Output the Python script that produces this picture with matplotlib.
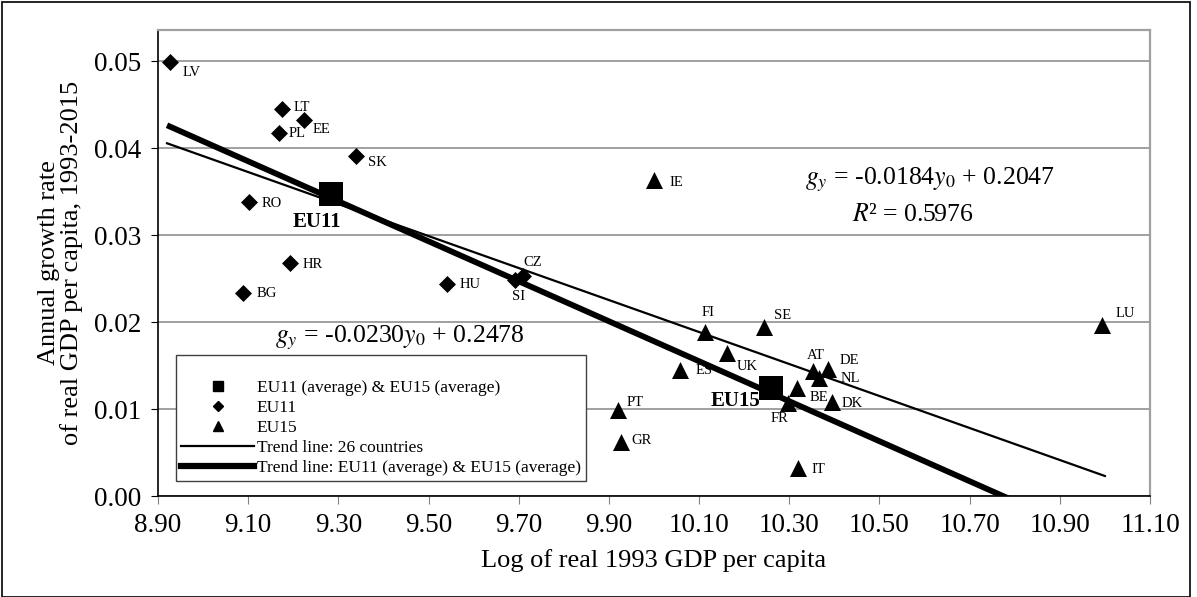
import matplotlib
matplotlib.use("Agg")
import matplotlib.pyplot as plt
from matplotlib.lines import Line2D
from matplotlib.patches import Rectangle
import numpy as np

plt.rcParams["font.family"] = ["Liberation Serif", "DejaVu Serif"]
plt.rcParams["mathtext.fontset"] = "stix"

# EU11 countries: log of real 1993 GDP per capita, annual growth 1993-2015
eu11_names = ["LV", "LT", "EE", "PL", "SK", "RO", "HR", "BG", "HU", "CZ", "SI"]
eu11_x = [8.927, 9.175, 9.224, 9.168, 9.339, 9.102, 9.193, 9.089, 9.541, 9.709, 9.692]
eu11_y = [0.0499, 0.0445, 0.0433, 0.0418, 0.0391, 0.0338, 0.0268, 0.0234, 0.0244, 0.0253, 0.0249]

# EU15 countries
eu15_names = ["IE", "FI", "SE", "UK", "ES", "AT", "DE", "NL", "BE", "FR", "DK", "PT", "GR", "IT", "LU"]
eu15_x = [10.000, 10.113, 10.244, 10.162, 10.058, 10.353, 10.386, 10.366, 10.317, 10.297, 10.395,
          9.920, 9.927, 10.319, 10.994]
eu15_y = [0.0364, 0.0189, 0.0194, 0.0164, 0.0145, 0.0144, 0.0146, 0.0136, 0.0124, 0.0107, 0.0108,
          0.0099, 0.0062, 0.0032, 0.0197]

# group averages
avg_names = ["EU11", "EU15"]
avg_x = [9.284, 10.259]
avg_y = [0.0347, 0.0124]

# trend line coefficients (slope, intercept) and x ranges
trend_all = (-0.0184, 0.2047)
trend_all_range = (8.92, 11.00)
trend_avg = (-0.0230, 0.2478)
trend_avg_range = (8.92, 10.80)

# label offsets in pixels (right, down)
label_off = {
    "LV": (12, 10), "LT": (12, -2), "EE": (9, 10), "PL": (10, 1), "SK": (12, 6),
    "RO": (13, 1), "HR": (12, 2), "BG": (13, 1), "HU": (13, 1), "CZ": (1, -14),
    "SI": (-3, 17), "IE": (15, 3), "FI": (-3, -19), "SE": (10, -12), "UK": (10, 13),
    "ES": (15, 1), "AT": (-6, -15), "DE": (12, -9), "NL": (22, 1), "BE": (13, 9),
    "FR": (-17, 16), "DK": (10, 1), "PT": (9, -7), "GR": (10, -2), "IT": (14, 1),
    "LU": (13, -11),
}
avg_off = {"EU11": (-14, 28), "EU15": (-35, 13)}

fig = plt.figure(figsize=(11.97, 5.97), dpi=100)
ax = fig.add_axes([158 / 1197, 1 - 496 / 597, (1150 - 158) / 1197, (496 - 30) / 597])

ax.set_xlim(8.90, 11.10)
ax.set_ylim(0.0, 0.0536)
ax.set_xticks(np.arange(8.90, 11.11, 0.20))
ax.set_yticks([0.00, 0.01, 0.02, 0.03, 0.04, 0.05])
ax.xaxis.set_major_formatter(matplotlib.ticker.FormatStrFormatter("%.2f"))
ax.yaxis.set_major_formatter(matplotlib.ticker.FormatStrFormatter("%.2f"))
ax.grid(axis="y", color="#a0a0a0", lw=1.4)
ax.set_axisbelow(True)
for s in ["top", "right"]:
    ax.spines[s].set_color("#a0a0a0")
    ax.spines[s].set_linewidth(1.6)
for s in ["left", "bottom"]:
    ax.spines[s].set_color("black")
    ax.spines[s].set_linewidth(1.2)
ax.tick_params(axis="x", length=6, color="#808080", labelsize=19.5, pad=6)
ax.tick_params(axis="y", length=5, color="black", labelsize=19.5, pad=7)

xa = np.array(trend_all_range)
ax.plot(xa, trend_all[0] * xa + trend_all[1], color="black", lw=1.6, zorder=3)
xb = np.array(trend_avg_range)
ax.plot(xb, trend_avg[0] * xb + trend_avg[1], color="black", lw=4.2, zorder=3,
        solid_capstyle="butt")

ax.scatter(eu11_x, eu11_y, marker="D", s=75, color="black", zorder=4, linewidths=0)
ax.scatter(eu15_x, eu15_y, marker="^", s=150, color="black", zorder=4, linewidths=0)
ax.scatter(avg_x, avg_y, marker="s", s=290, color="black", zorder=5, linewidths=0)

for names, xs, ys in [(eu11_names, eu11_x, eu11_y), (eu15_names, eu15_x, eu15_y)]:
    for n, x, y in zip(names, xs, ys):
        dx, dy = label_off[n]
        ax.annotate(n, (x, y), xytext=(dx, -dy), textcoords="offset pixels",
                    ha="left", va="center", fontsize=10.5)
for n, x, y in zip(avg_names, avg_x, avg_y):
    dx, dy = avg_off[n]
    ax.annotate(n, (x, y), xytext=(dx, -dy), textcoords="offset pixels",
                ha="center", va="center", fontsize=15, fontweight="bold")

ax.text(930 / 1197, 1 - 180 / 597, r"$g_y$ = -0.0184$y_0$ + 0.2047",
        transform=fig.transFigure, ha="center", va="center", fontsize=18.5)
ax.text(913 / 1197, 1 - 215 / 597, r"$R$² = 0.5976",
        transform=fig.transFigure, ha="center", va="center", fontsize=18.5)
ax.text(400 / 1197, 1 - 338 / 597, r"$g_y$ = -0.0230$y_0$ + 0.2478",
        transform=fig.transFigure, ha="center", va="center", fontsize=18.5)

ax.set_xlabel("Log of real 1993 GDP per capita", fontsize=19, labelpad=8)
ax.set_ylabel("Annual growth rate\nof real GDP per capita, 1993-2015", fontsize=19,
              labelpad=8, linespacing=1.0)

handles = [
    Line2D([], [], marker="s", color="black", ls="none", ms=7),
    Line2D([], [], marker="D", color="black", ls="none", ms=5.5),
    Line2D([], [], marker="^", color="black", ls="none", ms=7),
    Line2D([], [], color="black", lw=1.6),
    Line2D([], [], color="black", lw=4.5),
]
labels = ["EU11 (average) & EU15 (average)", "EU11", "EU15",
          "Trend line: 26 countries", "Trend line: EU11 (average) & EU15 (average)"]
leg = ax.legend(handles, labels, loc="upper left",
                bbox_to_anchor=(176 / 1197, 1 - 355 / 597), bbox_transform=fig.transFigure,
                fontsize=12.5, frameon=True, fancybox=False, framealpha=1,
                edgecolor="#404040", handlelength=4.2, handletextpad=0.15,
                labelspacing=0.22, borderpad=0.3, title=" ", title_fontsize=12.5,
                borderaxespad=0)
leg.get_frame().set_linewidth(1.0)

fig.patches.append(Rectangle((2 / 1197, 0), 1188 / 1197, 595 / 597,
                             transform=fig.transFigure, fill=False,
                             edgecolor="black", lw=1.2))

fig.savefig("out.png", dpi=100)
